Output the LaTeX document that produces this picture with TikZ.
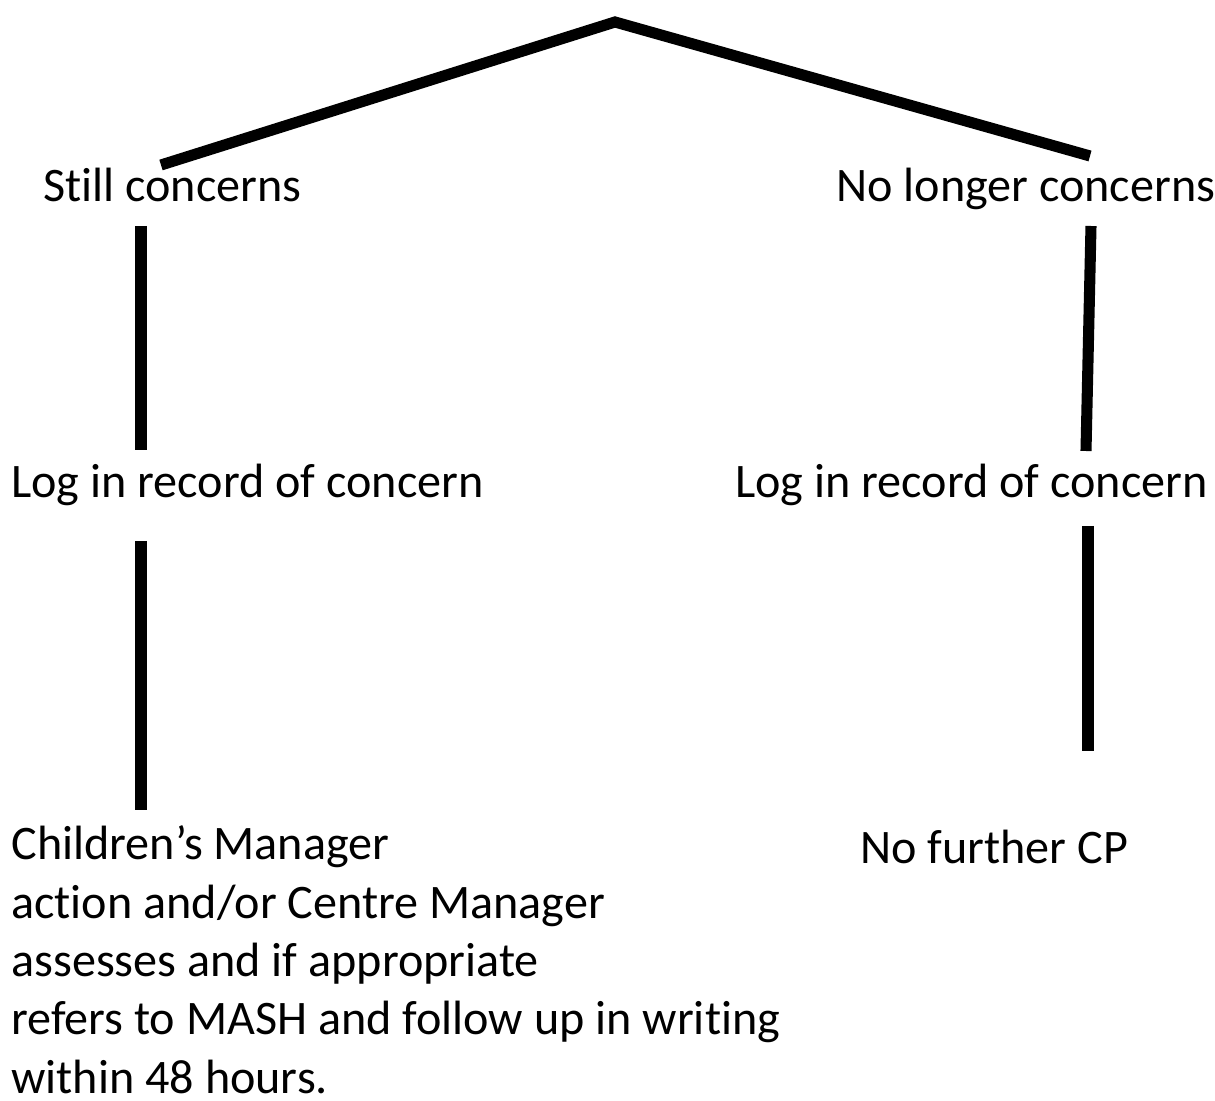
\documentclass[tikz,border=0pt]{standalone}
\usepackage{fontspec}
\setmainfont{Carlito}[Ligatures={NoCommon}]
\usepackage{tikz}
\tikzset{>=latex}
\tikzset{
  branch/.style={line width=6.3pt},
  label text/.style={anchor=base west,inner sep=0pt,align=left,
    font=\fontsize{27.4}{33.2}\selectfont}
}

\begin{document}
\begin{tikzpicture}[x=0.02cm,y=-0.02cm]
    \useasboundingbox (0,0) rectangle (1215,1101);

    \coordinate (apex) at (615, 22);
    \coordinate (s0) at (161, 165);
    \coordinate (n0) at (1090, 156);

    \coordinate (s1) at (141, 226);
    \coordinate (s2) at (141, 450);
    \coordinate (s3) at (141, 541);
    \coordinate (s4) at (141, 810);

    \coordinate (n1) at (1091, 226);
    \coordinate (n2) at (1086, 451);
    \coordinate (n3) at (1088, 526);
    \coordinate (n4) at (1088, 751);

    \draw [branch] (s0) -- (apex) -- (n0);
    \draw [branch] (s1) -- (s2);
    \draw [branch] (s3) -- (s4);
    \draw [branch] (n1) -- (n2);
    \draw [branch] (n3) -- (n4);

    \node [label text] (still) at (43, 202) {Still concerns};
    \node [label text] (nolonger) at (836, 202) {No longer concerns};

    \node [label text] (logleft) at (11, 498) {Log in record of concern};
    \node [label text] (logright) at (735, 498) {Log in record of concern};

    % base anchor sits on the last line here
    \node [label text] (manager) at (11, 1093)
    {Children’s Manager\\action and/or Centre Manager\\assesses and if appropriate\\refers to MASH and follow up in writing\\within 48 hours.};

    \node [label text] (nofurther) at (860, 864) {No further CP};
  \end{tikzpicture}
\end{document}
